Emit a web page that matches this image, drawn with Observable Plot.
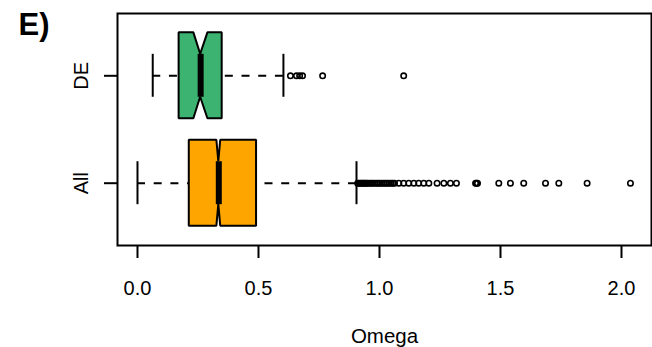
<!DOCTYPE html>
<html>
<head>
<meta charset="utf-8">
<script src="https://cdn.jsdelivr.net/npm/d3@7"></script>
<script src="https://cdn.jsdelivr.net/npm/@observablehq/plot@0.6"></script>
<style>
  html, body { margin: 0; padding: 0; background: #fff; }
  svg { display: block; }
</style>
</head>
<body>
<div id="chart"></div>
<script>
// ---- data ----
const groups = ["All", "DE"];               // y positions 1 and 2 (bottom to top)
const q1      = [0.214, 0.172];
const median  = [0.336, 0.261];
const q3      = [0.492, 0.350];
const notchLo = [0.328, 0.233];
const notchHi = [0.344, 0.291];
const whiskLo = [0.000, 0.063];
const whiskHi = [0.905, 0.603];
const outliersAll = [
  0.910, 0.915, 0.920, 0.925, 0.930, 0.935, 0.940, 0.945, 0.950, 0.958, 0.965, 0.972,
  0.980, 0.988, 0.995, 1.002, 1.010, 1.018, 1.025, 1.032, 1.040, 1.048, 1.055, 1.062,
  1.080, 1.100, 1.121, 1.142, 1.162, 1.183, 1.204, 1.238, 1.266, 1.293, 1.318,
  1.397, 1.401, 1.405, 1.493, 1.541, 1.596, 1.686, 1.741, 1.858, 2.037
];
const outliersDE = [0.632, 0.657, 0.670, 0.682, 0.765, 1.100];
const fills = ["#FFA500", "#3CB371"];
const xTicks = [0, 0.5, 1, 1.5, 2];
const panelLabel = "E)";
const xLabel = "Omega";

// ---- derived tables ----
const boxHalf = 0.4, notchHalf = 0.2;
const boxPts = [];
groups.forEach((g, i) => {
  const c = i + 1;
  const xs = [q1[i], notchLo[i], median[i], notchHi[i], q3[i]];
  const hs = [boxHalf, boxHalf, notchHalf, boxHalf, boxHalf];
  xs.forEach((x, k) => boxPts.push({g, x, y1: c - hs[k], y2: c + hs[k], fill: fills[i]}));
});
const stats = groups.map((g, i) => ({
  g, c: i + 1, q1: q1[i], med: median[i], q3: q3[i], lo: whiskLo[i], hi: whiskHi[i]
}));
const outs = [
  ...outliersAll.map(v => ({v, c: 1})),
  ...outliersDE.map(v => ({v, c: 2}))
];

const font = "Liberation Sans, Arial, Helvetica, sans-serif";

const chart = Plot.plot({
  width: 652,
  height: 347,
  marginLeft: 117,
  marginRight: 1,
  marginTop: 13,
  marginBottom: 102,
  style: {fontFamily: font, fontSize: "20px", background: "white", color: "black"},
  x: {domain: [-0.0826, 2.124]},
  y: {domain: [0.42, 2.58]},
  marks: [
    Plot.ruleY(stats, {y: "c", x1: "lo", x2: "q1", stroke: "black", strokeWidth: 2, strokeDasharray: "8,8.7"}),
    Plot.ruleY(stats, {y: "c", x1: "hi", x2: "q3", stroke: "black", strokeWidth: 2, strokeDasharray: "8,8.7"}),
    Plot.ruleX(stats, {x: "lo", y1: d => d.c - notchHalf, y2: d => d.c + notchHalf, stroke: "black", strokeWidth: 2}),
    Plot.ruleX(stats, {x: "hi", y1: d => d.c - notchHalf, y2: d => d.c + notchHalf, stroke: "black", strokeWidth: 2}),
    Plot.areaY(boxPts, {x: "x", y1: "y1", y2: "y2", z: "g", fill: "fill", stroke: "black", strokeWidth: 2, fillOpacity: 1, strokeLinejoin: "miter"}),
    Plot.ruleX(stats, {x: "med", y1: d => d.c - notchHalf, y2: d => d.c + notchHalf, stroke: "black", strokeWidth: 6, strokeLinecap: "butt"}),
    Plot.dot(outs, {x: "v", y: "c", r: 2.7, stroke: "black", strokeWidth: 1.6, fill: "none"}),
    Plot.frame({stroke: "black", strokeWidth: 2}),
    Plot.axisX({ticks: xTicks, tickSize: 13, tickPadding: 22, tickFormat: d => d.toFixed(1), fontSize: 20, strokeWidth: 2, label: null}),
    Plot.axisY({ticks: [1, 2], tickSize: 13, tickFormat: () => "", strokeWidth: 2, label: null}),
    Plot.text(groups, {y: (d, i) => i + 1, text: d => d, frameAnchor: "left", dx: -36, rotate: -90, textAnchor: "middle", lineAnchor: "middle", fontSize: 20, fill: "black"}),
    Plot.text([xLabel], {text: d => d, frameAnchor: "bottom", dy: 97, lineAnchor: "bottom", fontSize: 20.5, fill: "black"}),
    Plot.text([panelLabel], {text: d => d, frameAnchor: "top-left", dx: -99, dy: -1, lineAnchor: "top", textAnchor: "start", fontSize: 31, fontWeight: "bold", fill: "black"})
  ]
});
document.getElementById("chart").appendChild(chart);
</script>
</body>
</html>
